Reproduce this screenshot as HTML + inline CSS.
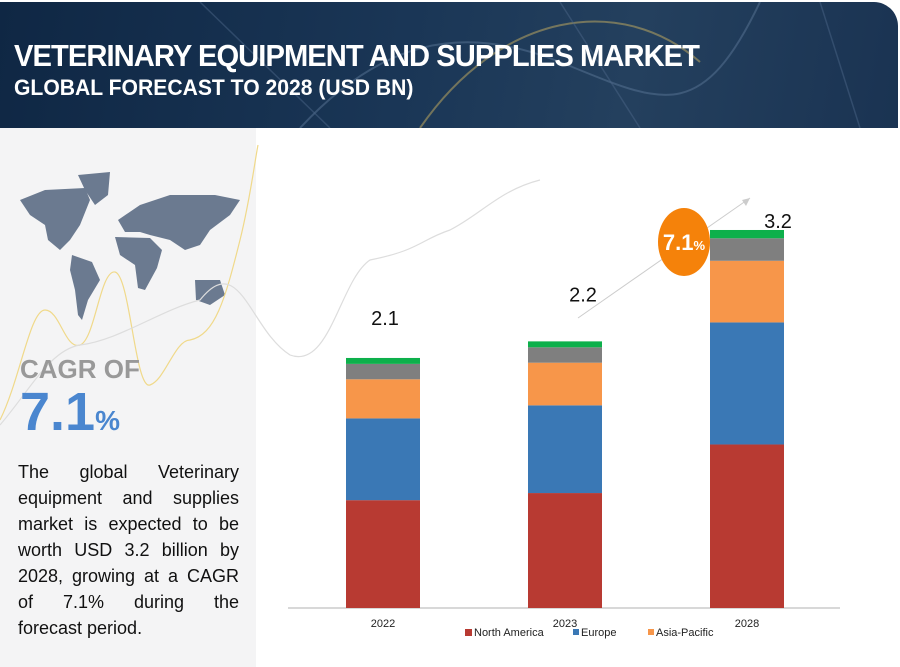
<!DOCTYPE html>
<html><head><meta charset="utf-8"><style>
body{margin:0;width:900px;height:667px;overflow:hidden;background:#fff;font-family:"Liberation Sans",sans-serif;position:relative}
#header{position:absolute;left:0;top:2px;width:898px;height:126px;border-top-right-radius:24px;background:linear-gradient(100deg,#0f2744 0%,#1a3656 45%,#24405e 70%,#1a3352 100%);overflow:hidden}
#left{position:absolute;left:0;top:128px;width:256px;height:539px;background:#f4f4f5}
.t1{position:absolute;left:14px;top:36px;color:#fff;font:bold 31px "Liberation Sans Narrow","Liberation Sans",sans-serif;letter-spacing:-1px;transform:scaleX(0.94);transform-origin:left;white-space:nowrap}
.t2{position:absolute;left:14px;top:73px;color:#fff;font:bold 22px "Liberation Sans Narrow","Liberation Sans",sans-serif;transform:scaleX(0.96);transform-origin:left;white-space:nowrap}
#desc{position:absolute;left:18px;top:459px;width:221px;font-size:18px;line-height:26px;color:#111}
#desc div{text-align:justify;text-align-last:justify;white-space:nowrap}
#desc div:last-child{text-align-last:left}
</style></head><body>
<div id="header">
<svg width="898" height="126" style="position:absolute;left:0;top:0">
<path d="M300 126 C380 40 460 20 560 60 S700 126 760 0" stroke="#5a7595" stroke-width="2" fill="none" opacity=".5"/>
<path d="M420 126 C500 10 620 -10 700 60" stroke="#c9b060" stroke-width="2" fill="none" opacity=".5"/>
<path d="M200 0 L330 126 M560 0 L640 126 M820 0 L860 126" stroke="#4a6585" stroke-width="1.5" opacity=".5"/>
</svg>
<div class="t1">VETERINARY EQUIPMENT AND SUPPLIES MARKET</div>
<div class="t2">GLOBAL FORECAST TO 2028 (USD BN)</div>
</div>
<div id="left"></div>
<svg width="900" height="667" style="position:absolute;left:0;top:0" id="main">
<g fill="#6b7a90">
<path d="M20 200 L45 190 L85 188 L90 200 L80 225 L70 240 L60 250 L48 240 L45 225 L30 215 Z"/>
<path d="M78 175 L110 172 L108 195 L95 205 L85 190 Z"/>
<path d="M72 255 L92 262 L100 280 L88 300 L82 320 L78 315 L75 290 L70 270 Z"/>
<path d="M118 220 L140 205 L170 195 L215 195 L240 200 L230 215 L210 230 L200 245 L185 250 L170 240 L150 235 L140 232 L125 232 Z"/>
<path d="M115 237 L150 238 L162 250 L157 268 L145 290 L138 288 L135 265 L120 255 Z"/>
<path d="M195 280 L220 280 L225 295 L210 305 L196 300 Z"/>
</g>
<path d="M0 420 C20 380 30 310 45 310 C60 310 65 350 80 345 C95 340 100 270 115 272 C130 275 135 390 150 385 C165 380 175 340 190 340 C215 335 225 300 240 240 C250 200 255 160 258 145" stroke="#f0d98a" fill="none" stroke-width="1.2"/>
<path d="M0 425 C30 390 50 350 80 345 C120 340 160 310 200 300 C240 250 250 330 290 355 C330 370 340 280 370 260 C420 250 420 240 450 230 C480 215 500 190 540 180" stroke="#ddd" fill="none" stroke-width="1.2"/>
<text x="20" y="378" font-size="26" font-weight="bold" fill="#999" font-family="Liberation Sans Narrow, Liberation Sans, sans-serif">CAGR OF</text>
<text x="20" y="430" font-size="54" font-weight="bold" fill="#4a86cf">7.1<tspan font-size="28">%</tspan></text>
<line x1="288" y1="608" x2="840" y2="608" stroke="#ccc" stroke-width="1.5"/>
<line x1="578" y1="318" x2="750" y2="198" stroke="#ccc" stroke-width="1"/>
<polygon points="750,198 742,200 746,206" fill="#ccc"/>
<g id="bars"></g>
<ellipse cx="684" cy="242" rx="26" ry="34" fill="#f5820a"/>
<text x="684" y="250" text-anchor="middle" font-size="22" font-weight="bold" fill="#fff">7.1<tspan font-size="13">%</tspan></text>
<g font-size="11" fill="#222">
<rect x="465" y="629" width="7" height="7" fill="#b83a32"/><text x="474" y="636">North America</text>
<rect x="573" y="629" width="6" height="6" fill="#3a78b5"/><text x="581" y="636">Europe</text>
<rect x="648" y="629" width="6" height="6" fill="#f7964a"/><text x="656" y="636">Asia-Pacific</text>
</g>
</svg>
<div id="desc"><div>The global Veterinary</div><div>equipment and supplies</div><div>market is expected to be</div><div>worth USD 3.2 billion by</div><div>2028, growing at a CAGR</div><div>of 7.1% during the</div><div>forecast period.</div></div>
<script>
const categories=["2022","2023","2028"];
const totals=["2.1","2.2","3.2"];
const northAmerica=[0.91,0.97,1.38];
const europe=[0.69,0.74,1.03];
const asiaPacific=[0.33,0.36,0.52];
const restOfWorld=[0.13,0.13,0.19];
const other=[0.05,0.05,0.07];
const series=[northAmerica,europe,asiaPacific,restOfWorld,other];
const seriesNames=["north-america","europe","asia-pacific","rest-of-world","other"];
const colors=["#b83a32","#3a78b5","#f7964a","#7f7f7f","#0db04b"];
const labelDx=[2,18,31],labelGap=[33,40,2];
const baseY=608,scale=118.5,x0=346,step=182,bw=74;
function y(v){return baseY-v*scale}
function xc(i){return x0+i*step+bw/2}
const g=document.getElementById('bars'),ns="http://www.w3.org/2000/svg";
categories.forEach((c,i)=>{
  let acc=0;
  series.forEach((s,k)=>{
    const r=document.createElementNS(ns,'rect');
    r.setAttribute('x',xc(i)-bw/2);r.setAttribute('width',bw);
    r.setAttribute('y',y(acc+s[i]));r.setAttribute('height',s[i]*scale);
    r.setAttribute('fill',colors[k]);
    
    
    g.appendChild(r);acc+=s[i];
  });
  const t=document.createElementNS(ns,'text');
  t.setAttribute('x',xc(i)+labelDx[i]);t.setAttribute('y',y(acc)-labelGap[i]);t.setAttribute('text-anchor','middle');
  t.setAttribute('font-size','20');t.setAttribute('fill','#111');t.textContent=totals[i];
  
  
  g.appendChild(t);
  const l=document.createElementNS(ns,'text');
  l.setAttribute('x',xc(i));l.setAttribute('y',627);l.setAttribute('text-anchor','middle');
  l.setAttribute('font-size','11');l.setAttribute('fill','#222');l.textContent=c;
  
  
  g.appendChild(l);
});
</script>
</body></html>
